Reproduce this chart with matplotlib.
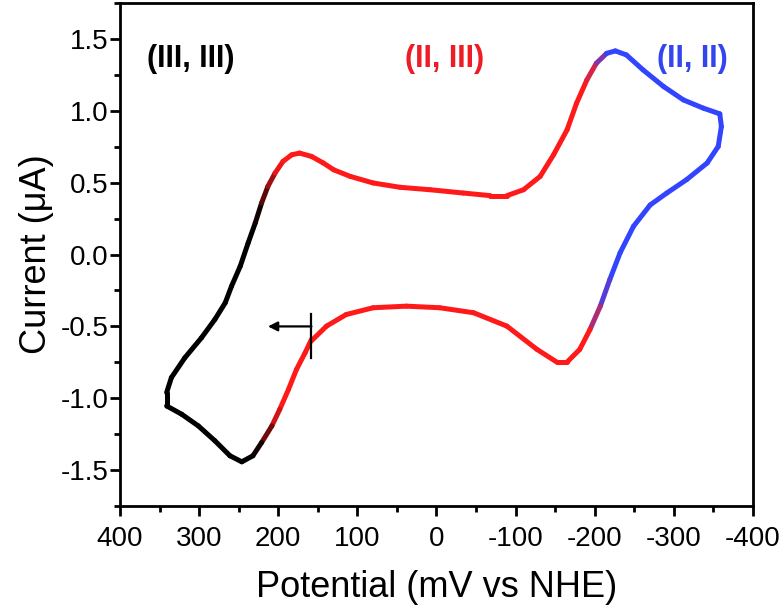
import matplotlib
matplotlib.use("Agg")
import matplotlib.pyplot as plt
import numpy as np
from matplotlib.collections import LineCollection
from matplotlib.colors import LinearSegmentedColormap, Normalize
from matplotlib.ticker import MultipleLocator

plt.rcParams["font.family"] = ["Liberation Sans", "DejaVu Sans"]

# Cyclic voltammogram (starts at the arrow, closed loop)
potential = [158, 166, 177, 187, 198, 208, 221, 232, 246, 261,
             280, 301, 322, 341, 341, 335, 318, 297, 280, 267,
             259, 248, 238, 229, 221, 213, 204, 194, 183, 173,
             158, 143, 130, 109, 80, 46, 8, -34, -68, -89,
             -110, -131, -148, -165, -177, -190, -202, -215, -226, -240,
             -261, -287, -312, -337, -358, -360, -356, -342, -316, -291,
             -270, -249, -232, -219, -207, -194, -181, -165, -152, -127,
             -89, -47, -4, 38, 80, 114, 139, 158]
current = [-0.59, -0.683, -0.80, -0.938, -1.076, -1.192, -1.308, -1.40, -1.442, -1.40,
           -1.296, -1.192, -1.111, -1.053, -0.96, -0.856, -0.718, -0.579, -0.451, -0.336,
           -0.22, -0.081, 0.081, 0.22, 0.359, 0.475, 0.567, 0.648, 0.694, 0.706,
           0.683, 0.637, 0.59, 0.544, 0.498, 0.468, 0.451, 0.428, 0.41, 0.41,
           0.451, 0.544, 0.695, 0.868, 1.053, 1.215, 1.331, 1.40, 1.417, 1.389,
           1.285, 1.169, 1.076, 1.019, 0.979, 0.891, 0.752, 0.637, 0.521, 0.428,
           0.345, 0.197, 0.012, -0.174, -0.359, -0.521, -0.66, -0.748, -0.748, -0.66,
           -0.498, -0.405, -0.37, -0.359, -0.37, -0.417, -0.498, -0.60]

state_labels = ["(III, III)", "(II, III)", "(II, II)"]
state_x = [311, -10, -323]
state_y = [1.36, 1.36, 1.36]
state_colors = ["black", "#ee1c24", "#3346ee"]

# arrow marking the start of the scan
start_E = 158
arrow_end_E = 213
arrow_I = -0.50
bar_I = [-0.417, -0.717]

red = "#ff1a1a"
blue = "#3344ff"

fig = plt.figure(figsize=(7.84, 6.09), dpi=100)
ax = fig.add_axes([0.153, 0.169, 0.8075, 0.826])

# colour by potential: blue -> red -> black
cmap = LinearSegmentedColormap.from_list(
    "cv",
    [(0.0, blue), (0.225, blue), (0.2625, red),
     (0.745, red), (0.7875, "black"), (1.0, "black")],
)
E = np.array(potential, dtype=float)
I = np.array(current, dtype=float)
pts = np.column_stack([E, I]).reshape(-1, 1, 2)
segs = np.concatenate([pts[:-1], pts[1:]], axis=1)
mid = 0.5 * (E[:-1] + E[1:])
lc = LineCollection(segs, cmap=cmap, norm=Normalize(-400, 400),
                    linewidths=3.6, capstyle="round", joinstyle="round")
lc.set_array(mid)
ax.add_collection(lc)

# start marker
ax.plot([start_E, start_E], bar_I, color="black", lw=1.6)
ax.annotate("", xy=(arrow_end_E, arrow_I), xytext=(start_E, arrow_I),
            arrowprops=dict(arrowstyle="-|>", color="black", lw=1.6,
                            mutation_scale=14, shrinkA=0, shrinkB=0))

for lab, x, y, c in zip(state_labels, state_x, state_y, state_colors):
    ax.text(x, y, lab, color=c, fontsize=22, fontweight="bold",
            ha="center", va="center")

ax.set_xlim(400, -400)
ax.set_ylim(-1.75, 1.75)
ax.xaxis.set_major_locator(MultipleLocator(100))
ax.xaxis.set_minor_locator(MultipleLocator(50))
ax.yaxis.set_major_locator(MultipleLocator(0.5))
ax.yaxis.set_minor_locator(MultipleLocator(0.25))
ax.yaxis.set_major_formatter(plt.FuncFormatter(lambda v, p: f"{v:.1f}"))
ax.xaxis.set_major_formatter(plt.FuncFormatter(lambda v, p: f"{v:.0f}"))

ax.tick_params(which="both", direction="out", width=2, top=False, right=False,
               labelsize=20, colors="black")
ax.tick_params(which="major", length=7)
ax.tick_params(which="minor", length=4)
ax.tick_params(axis="x", which="major", pad=7)
ax.tick_params(axis="y", which="major", pad=1)
for s in ax.spines.values():
    s.set_linewidth(2)

ax.set_xlabel("Potential (mV vs NHE)", fontsize=26, labelpad=13)
ax.set_ylabel("Current (\u03bcA)", fontsize=26, labelpad=5)

fig.savefig("out.png", dpi=100)
